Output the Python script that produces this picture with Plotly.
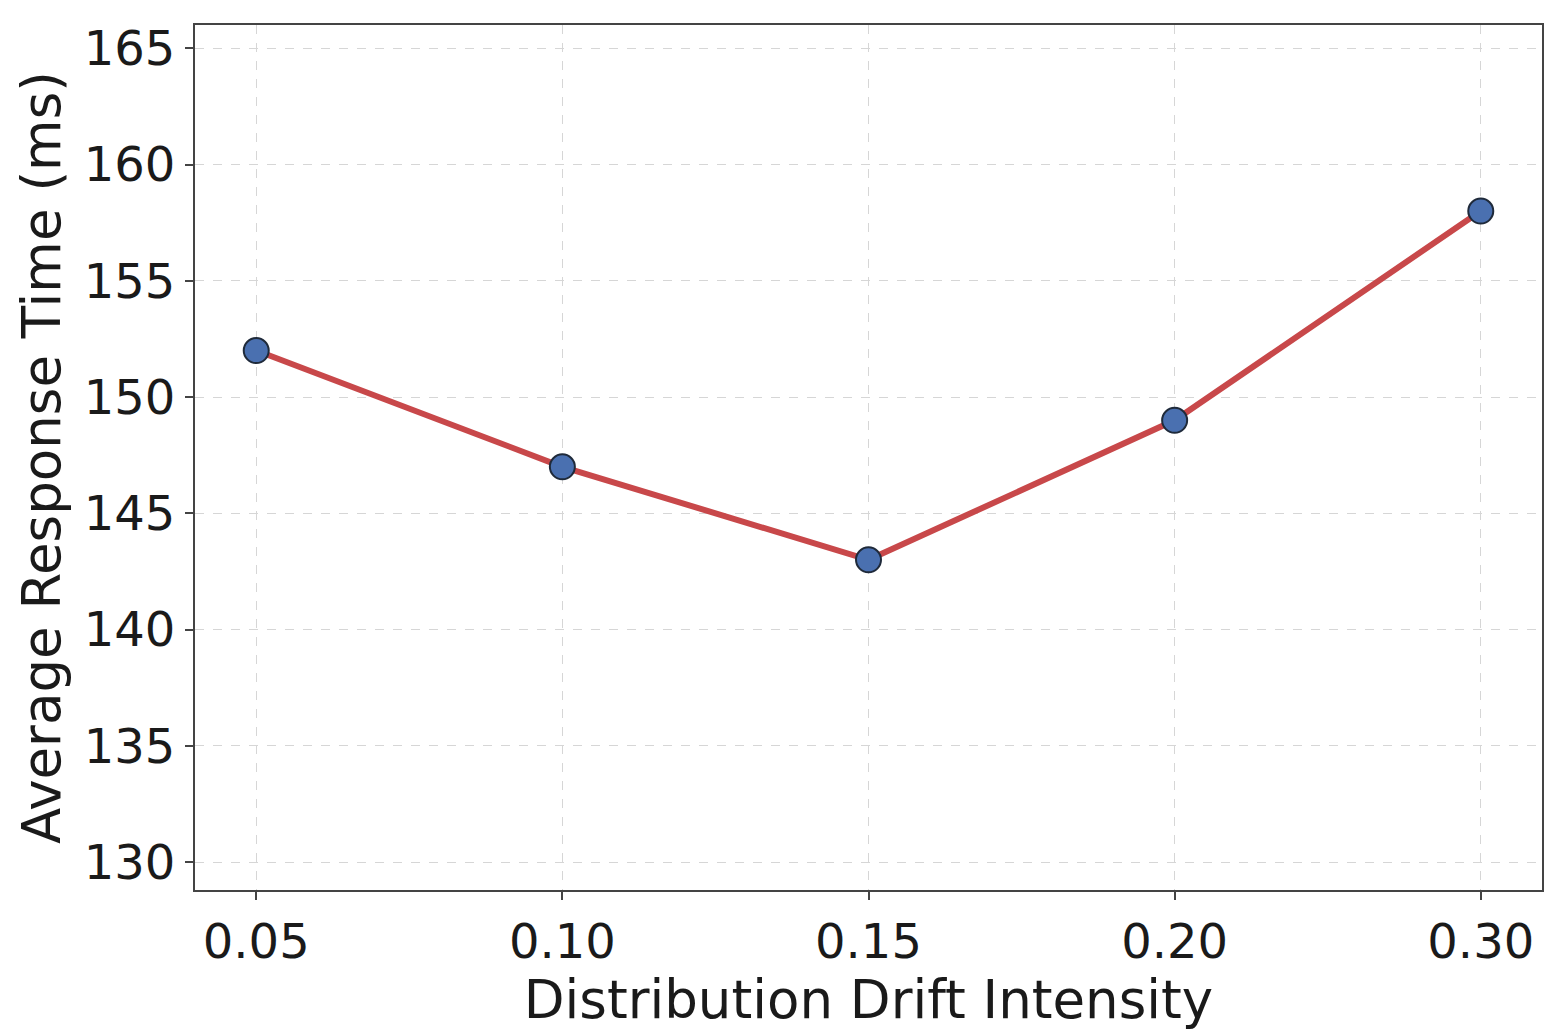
import plotly.graph_objects as go

categories = ["0.05", "0.10", "0.15", "0.20", "0.30"]
values = [152, 147, 143, 149, 158]
y_ticks = [130, 135, 140, 145, 150, 155, 160, 165]

fig = go.Figure()
fig.add_trace(go.Scatter(
    x=list(range(len(categories))), y=values, mode="lines+markers",
    line=dict(color="#c8484a", width=6),
    marker=dict(size=25, color="#4a70b0", line=dict(color="#1f2a3a", width=2)),
    showlegend=False,
))

axis_common = dict(
    showline=True, linecolor="#444444", linewidth=2, mirror=True,
    ticks="outside", ticklen=8, tickwidth=2, tickcolor="#444444",
    showgrid=True, gridcolor="#d6d6d6", griddash="dash", gridwidth=1,
    zeroline=False,
    tickfont=dict(family="DejaVu Sans", size=48, color="#1a1a1a"),
)

fig.update_xaxes(
    **axis_common,
    tickmode="array", tickvals=list(range(len(categories))), ticktext=categories,
    range=[-0.2, 4.2],
    title=dict(text="Distribution Drift Intensity", font=dict(family="DejaVu Sans", size=53, color="#1a1a1a"), standoff=0),
)
fig.update_yaxes(
    **axis_common,
    tickmode="array", tickvals=y_ticks,
    range=[128.8, 166.0],
    title=dict(text="Average Response Time (ms)", font=dict(family="DejaVu Sans", size=53, color="#1a1a1a"), standoff=6),
)

fig.update_layout(
    width=1560, height=1034,
    margin=dict(l=187, r=26, t=14, b=152),
    plot_bgcolor="white", paper_bgcolor="white",
)

fig.write_html("out.html")
